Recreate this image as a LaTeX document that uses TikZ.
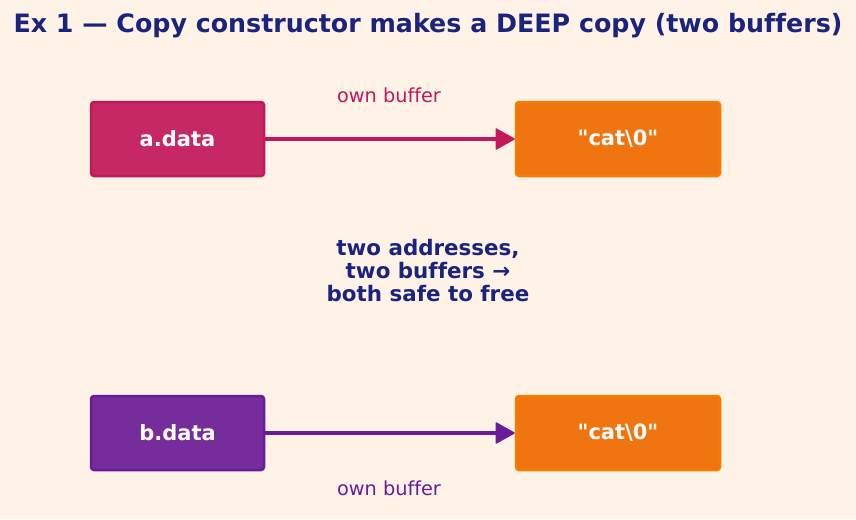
\documentclass[tikz,border=0pt]{standalone}
\usepackage{fontspec}
\setmainfont[Ligatures=NoCommon]{DejaVu Sans}
\usetikzlibrary{arrows.meta}
\definecolor{bg}{HTML}{FFF3E8}
\definecolor{navy}{HTML}{1A237E}
\definecolor{crim}{HTML}{C62864}
\definecolor{crimb}{HTML}{C2185B}
\definecolor{purp}{HTML}{772C9C}
\definecolor{purpb}{HTML}{6A1B9A}
\definecolor{oran}{HTML}{F07511}
\definecolor{oranb}{HTML}{F57C00}
\tikzset{
  x=1pt,y=-1pt,
  ptrbox/.style={draw=#1, line width=2.5pt, rounded corners=3pt, minimum width=173pt, minimum height=74pt, text=white, font=\fontsize{21}{24}\selectfont\bfseries},
  bufbox/.style={draw=oranb, fill=oran, line width=2.5pt, rounded corners=3pt, minimum width=204pt, minimum height=74pt, text=white, font=\fontsize{21}{24}\selectfont\bfseries},
  ptr/.style={draw=#1, line width=4pt, -{Triangle[length=20pt,width=22pt,line join=round,line width=1.5pt]}},
  lbl/.style={font=\fontsize{19.3}{22}\selectfont},
}
\begin{document}
\begin{tikzpicture}
\fill[bg] (0,0) rectangle (856,519);
\useasboundingbox (0,0) rectangle (856,519);
\node[text=navy, font=\fontsize{25.3}{30}\selectfont\bfseries] (title) at (428,26) {Ex 1 — Copy constructor makes a DEEP copy (two buffers)};
\node[ptrbox=crimb, fill=crim] (a) at (177.5,139) {a.data};
\node[bufbox] (ab) at (618,139) {\textquotedbl cat\textbackslash 0\textquotedbl};
\node[ptrbox=purpb, fill=purp] (b) at (177.5,433) {b.data};
\node[bufbox] (bb) at (618,433) {\textquotedbl cat\textbackslash 0\textquotedbl};
\draw[ptr=crimb] (a.east) -- (ab.west);
\draw[ptr=purpb] (b.east) -- (bb.west);
\node[lbl, text=crimb] (la) at (389,95) {own buffer};
\node[lbl, text=purpb] (lb) at (389,488) {own buffer};
\node[text=navy, align=center, font=\fontsize{21.4}{23}\selectfont\bfseries] (mid) at (428,271) {two addresses,\\two buffers →\\both safe to free};
\end{tikzpicture}
\end{document}
